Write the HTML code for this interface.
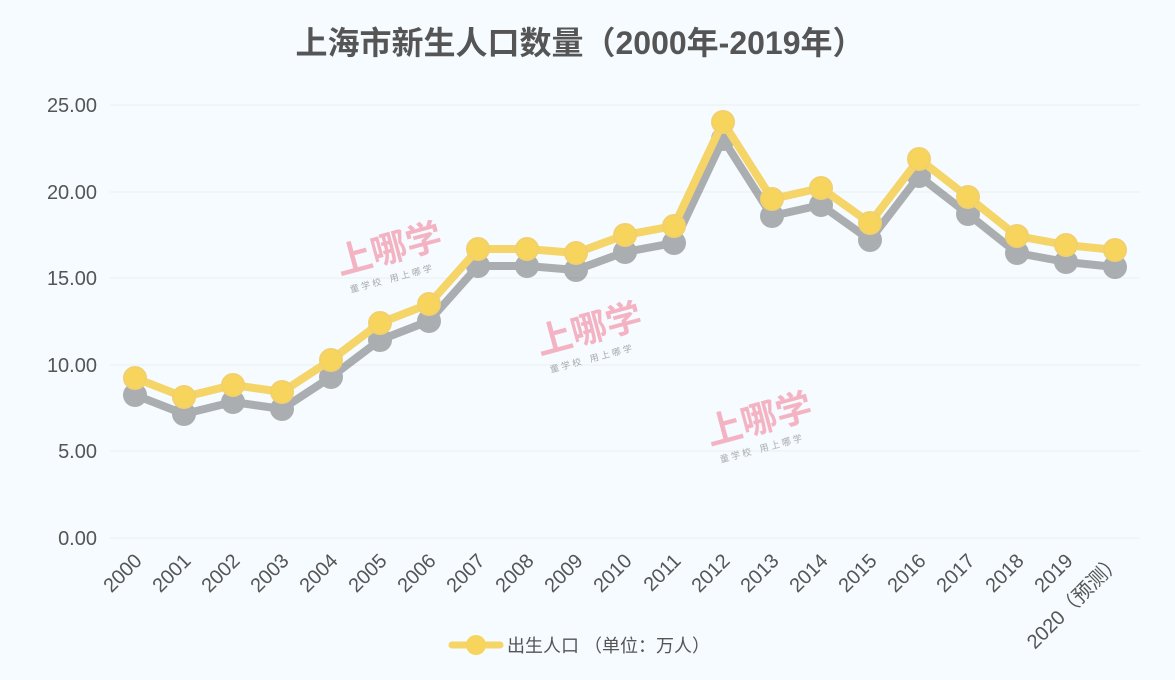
<!DOCTYPE html><html><head><meta charset="utf-8"><style>body{margin:0;background:#f5fbfe;}svg{display:block;font-family:"Liberation Sans","Noto Sans CJK SC",sans-serif;}</style></head><body>
<svg width="1175" height="680" viewBox="0 0 1175 680">
<rect width="1175" height="680" fill="#f5fbfe"/>
<text x="580" y="54" text-anchor="middle" font-size="32" font-weight="bold" fill="#555">上海市新生人口数量（2000年-2019年）</text>
<g stroke="#eaf0f3" stroke-width="1">
<line x1="110" x2="1140" y1="105" y2="105"/><line x1="110" x2="1140" y1="192" y2="192"/><line x1="110" x2="1140" y1="278" y2="278"/><line x1="110" x2="1140" y1="365" y2="365"/><line x1="110" x2="1140" y1="451" y2="451"/><line x1="110" x2="1140" y1="538" y2="538"/></g>
<g font-size="20" fill="#555" text-anchor="end">
<text x="97" y="112">25.00</text><text x="97" y="199">20.00</text><text x="97" y="285">15.00</text><text x="97" y="372">10.00</text><text x="97" y="458">5.00</text><text x="97" y="545">0.00</text></g>
<g fill="#f4a6b8" opacity="0.85">
<g transform="translate(340,275) rotate(-15)"><text font-size="36" font-weight="bold">上哪学</text><text y="20" x="6" font-size="9" fill="#999">童 学 校　用 上 哪 学</text></g>
<g transform="translate(540,355) rotate(-15)"><text font-size="36" font-weight="bold">上哪学</text><text y="20" x="6" font-size="9" fill="#999">童 学 校　用 上 哪 学</text></g>
<g transform="translate(710,445) rotate(-15)"><text font-size="36" font-weight="bold">上哪学</text><text y="20" x="6" font-size="9" fill="#999">童 学 校　用 上 哪 学</text></g>
</g>
<g font-size="20" fill="#555" text-anchor="end">
<text transform="translate(143,562) rotate(-45)">2000</text>
<text transform="translate(192,562) rotate(-45)">2001</text>
<text transform="translate(241,562) rotate(-45)">2002</text>
<text transform="translate(290,562) rotate(-45)">2003</text>
<text transform="translate(339,562) rotate(-45)">2004</text>
<text transform="translate(388,562) rotate(-45)">2005</text>
<text transform="translate(437,562) rotate(-45)">2006</text>
<text transform="translate(486,562) rotate(-45)">2007</text>
<text transform="translate(535,562) rotate(-45)">2008</text>
<text transform="translate(584,562) rotate(-45)">2009</text>
<text transform="translate(633,562) rotate(-45)">2010</text>
<text transform="translate(682,562) rotate(-45)">2011</text>
<text transform="translate(731,562) rotate(-45)">2012</text>
<text transform="translate(780,562) rotate(-45)">2013</text>
<text transform="translate(829,562) rotate(-45)">2014</text>
<text transform="translate(878,562) rotate(-45)">2015</text>
<text transform="translate(927,562) rotate(-45)">2016</text>
<text transform="translate(976,562) rotate(-45)">2017</text>
<text transform="translate(1025,562) rotate(-45)">2018</text>
<text transform="translate(1074,562) rotate(-45)">2019</text>
<text transform="translate(1123,562) rotate(-45)">2020（预测）</text>
</g>
<g transform="translate(0,17)" opacity="0.35">
<polyline fill="none" stroke="#222" stroke-width="8" stroke-linejoin="round" points="135,378 184,397 233,385 282,392 331,360 380,323 429,304 478,249 527,249 576,253 625,235 674,226 723,122 772,199 821,188 870,223 919,159 968,197 1017,236 1066,245 1115,250"/>
<g fill="#222"><circle cx="135" cy="378" r="12"/><circle cx="184" cy="397" r="12"/><circle cx="233" cy="385" r="12"/><circle cx="282" cy="392" r="12"/><circle cx="331" cy="360" r="12"/><circle cx="380" cy="323" r="12"/><circle cx="429" cy="304" r="12"/><circle cx="478" cy="249" r="12"/><circle cx="527" cy="249" r="12"/><circle cx="576" cy="253" r="12"/><circle cx="625" cy="235" r="12"/><circle cx="674" cy="226" r="12"/><circle cx="723" cy="122" r="12"/><circle cx="772" cy="199" r="12"/><circle cx="821" cy="188" r="12"/><circle cx="870" cy="223" r="12"/><circle cx="919" cy="159" r="12"/><circle cx="968" cy="197" r="12"/><circle cx="1017" cy="236" r="12"/><circle cx="1066" cy="245" r="12"/><circle cx="1115" cy="250" r="12"/></g></g>
<polyline fill="none" stroke="#f5d468" stroke-width="8" stroke-linejoin="round" points="135,378 184,397 233,385 282,392 331,360 380,323 429,304 478,249 527,249 576,253 625,235 674,226 723,122 772,199 821,188 870,223 919,159 968,197 1017,236 1066,245 1115,250"/>
<g fill="#f7d55c" stroke="#f2d06c" stroke-width="2"><circle cx="135" cy="378" r="11"/><circle cx="184" cy="397" r="11"/><circle cx="233" cy="385" r="11"/><circle cx="282" cy="392" r="11"/><circle cx="331" cy="360" r="11"/><circle cx="380" cy="323" r="11"/><circle cx="429" cy="304" r="11"/><circle cx="478" cy="249" r="11"/><circle cx="527" cy="249" r="11"/><circle cx="576" cy="253" r="11"/><circle cx="625" cy="235" r="11"/><circle cx="674" cy="226" r="11"/><circle cx="723" cy="122" r="11"/><circle cx="772" cy="199" r="11"/><circle cx="821" cy="188" r="11"/><circle cx="870" cy="223" r="11"/><circle cx="919" cy="159" r="11"/><circle cx="968" cy="197" r="11"/><circle cx="1017" cy="236" r="11"/><circle cx="1066" cy="245" r="11"/><circle cx="1115" cy="250" r="11"/></g>
<line x1="452" x2="500" y1="645" y2="645" stroke="#f5d468" stroke-width="7" stroke-linecap="round"/>
<circle cx="476" cy="645" r="10" fill="#f7d55c"/>
<text x="507" y="652" font-size="18" fill="#555">出生人口 （单位：万人）</text>
</svg></body></html>
